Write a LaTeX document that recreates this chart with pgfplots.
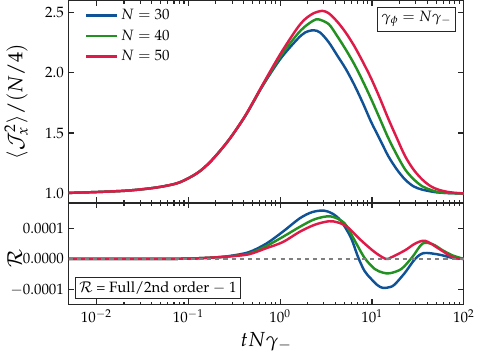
\documentclass[border=0pt]{standalone}
\usepackage[T1]{fontenc}
\usepackage{mathpazo}
\usepackage{pgfplots}
\pgfplotsset{compat=1.18}

\definecolor{cblue}{RGB}{16,82,150}
\definecolor{cgreen}{RGB}{34,145,34}
\definecolor{cred}{RGB}{222,26,72}

\pgfplotsset{
  mypanel/.style={
    scale only axis, width=291pt,
    xmin=0.005, xmax=100,
    xtick={0.01,0.1,1,10,100},
    axis line style={line width=0.9pt, black!85},
    tick style={black!85, line width=0.8pt},
    major tick length=4pt, minor tick length=2.3pt,
    tick align=inside, xtick pos=both, ytick pos=both,
    tick label style={font=\fontsize{11}{13}\selectfont},
    label style={font=\fontsize{15}{17}\selectfont},
  },
  curve/.style={#1, line width=1.8pt, smooth, tension=0.5},
}

\begin{document}
\begin{tikzpicture}
% upper panel
\begin{axis}[xmode=log, mypanel, name=top, height=149pt,
    ymin=0.922, ymax=2.595,
    ytick={1,1.5,2,2.5},
    yticklabel style={/pgf/number format/.cd, fixed, fixed zerofill, precision=1},
    xticklabels={},
    ylabel={$\langle\mathcal{J}_x^2\rangle/(N/4)$},
    every axis y label/.style={at={(axis description cs:-0.133,0.5)}, rotate=90, anchor=center,
        font=\fontsize{15}{17}\selectfont},
    legend style={at={(axis description cs:0.03,0.985)}, anchor=north west, draw=none, fill=none,
        font=\fontsize{11}{13}\selectfont, row sep=2pt},
    legend cell align=left,
    legend image code/.code={\draw[#1, line width=1.8pt] (0,0) -- (0.8cm,0);},
]
\addplot[curve=cblue] coordinates {
(0.005,1.005) (0.01,1.012) (0.02,1.022) (0.0316,1.035) (0.05,1.055) (0.0794,1.09)
(0.126,1.17) (0.178,1.27) (0.275,1.44) (0.422,1.645) (0.646,1.89) (1,2.11)
(1.514,2.27) (1.86,2.33) (2.31,2.35) (2.74,2.33) (3.39,2.25) (4.20,2.14)
(5.19,2.03) (6.41,1.90) (7.94,1.75) (9.82,1.59) (12.16,1.45) (15.03,1.31)
(18.62,1.20) (22.9,1.116) (28.2,1.06) (35.2,1.032) (50.1,1.01) (70.8,1.003) (100,1.0)
};
\addlegendentry{$N = 30$}
\addplot[curve=cgreen] coordinates {
(0.005,1.005) (0.01,1.012) (0.02,1.022) (0.0316,1.035) (0.05,1.055) (0.0794,1.09)
(0.126,1.17) (0.178,1.27) (0.275,1.44) (0.422,1.648) (0.646,1.895) (1,2.13)
(1.514,2.31) (1.86,2.38) (2.31,2.43) (2.63,2.44) (3.39,2.40) (4.20,2.30)
(5.19,2.19) (6.41,2.07) (7.94,1.93) (9.82,1.78) (12.16,1.62) (15.03,1.46)
(18.62,1.32) (22.9,1.20) (28.2,1.12) (35.2,1.06) (43.6,1.03) (53.7,1.01) (70.8,1.003) (100,1.0)
};
\addlegendentry{$N = 40$}
\addplot[curve=cred] coordinates {
(0.005,1.005) (0.01,1.012) (0.02,1.022) (0.0316,1.035) (0.05,1.055) (0.0794,1.09)
(0.126,1.17) (0.178,1.27) (0.275,1.44) (0.422,1.65) (0.646,1.90) (1,2.15)
(1.514,2.36) (1.86,2.44) (2.31,2.49) (2.88,2.51) (3.39,2.49) (4.20,2.42)
(5.19,2.33) (6.41,2.22) (7.94,2.09) (9.82,1.95) (12.16,1.79) (15.03,1.62)
(18.62,1.46) (22.9,1.31) (28.2,1.20) (35.2,1.116) (43.6,1.06) (53.7,1.03) (70.8,1.01) (100,1.0)
};
\addlegendentry{$N = 50$}
\node[draw=black!85, line width=0.6pt, fill=white, anchor=north east, inner sep=3pt,
      font=\fontsize{11}{13}\selectfont]
  at (axis description cs:0.98,0.97) {$\gamma_\phi = N\gamma_-$};
\end{axis}

% lower panel
\begin{axis}[xmode=log, mypanel, at={(top.south west)}, anchor=north west, height=75pt,
    ymin=-0.00015, ymax=0.000183,
    ytick={-0.0001,0,0.0001},
    yticklabels={$-0.0001$,$0.0000$,$0.0001$},
    scaled y ticks=false,
    xlabel={$tN\gamma_-$},
    ylabel={$\mathcal{R}$},
    every axis y label/.style={at={(axis description cs:-0.137,0.45)}, rotate=90, anchor=center,
        font=\fontsize{15}{17}\selectfont},
]
\addplot[curve=cblue] coordinates {
(0.005,0) (0.05,0) (0.1,0.000001) (0.178,0.000004) (0.275,0.000009) (0.457,0.000022)
(0.708,0.000050) (1.072,0.000089) (1.644,0.000133) (2.239,0.000153) (2.985,0.000158)
(3.715,0.000148) (4.571,0.000125) (5.888,0.000070) (7.079,0.000005) (8.318,-0.000040)
(9.772,-0.000065) (11.48,-0.000086) (13.18,-0.000095) (15.85,-0.000092) (17.78,-0.000083)
(22.91,-0.000045) (29.51,0.000000) (36.73,0.000019) (53.70,0.000014) (75.86,0.000003) (100,0)
};
\addplot[curve=cgreen] coordinates {
(0.005,0) (0.05,0) (0.1,0.000001) (0.178,0.000004) (0.275,0.000008) (0.457,0.000017)
(0.708,0.000042) (1.072,0.000072) (1.644,0.000105) (2.399,0.000130) (3.540,0.000139)
(5.012,0.000117) (6.457,0.000061) (8.318,0.000003) (10.72,-0.000033) (13.18,-0.000045)
(15.67,-0.000047) (20.89,-0.000033) (27.54,0.000006) (35.48,0.000050) (45.71,0.000048)
(58.88,0.000028) (75.86,0.000011) (100,0)
};
\addplot[curve=cred] coordinates {
(0.005,0) (0.05,0) (0.1,0.000001) (0.178,0.000004) (0.275,0.000008) (0.457,0.000015)
(0.708,0.000035) (1.072,0.000055) (1.644,0.000089) (2.399,0.000112) (3.388,0.000123)
(4.169,0.000120) (5.370,0.000105) (7.586,0.000061) (10.72,0.000022) (14.13,0.000000)
(16.22,0.000005) (22.91,0.000028) (29.51,0.000050) (38.02,0.000059) (53.70,0.000033)
(75.86,0.000005) (100,0)
};
\addplot[gray, dashed, line width=1pt] coordinates {(0.005,0) (100,0)};
\node[draw=black!85, line width=0.6pt, fill=white, anchor=south west, inner sep=3pt,
      font=\fontsize{11}{13}\selectfont]
  at (axis description cs:0.015,0.06) {$\mathcal{R}$ = Full/2nd order $-$ 1};
\end{axis}
\end{tikzpicture}
\end{document}
